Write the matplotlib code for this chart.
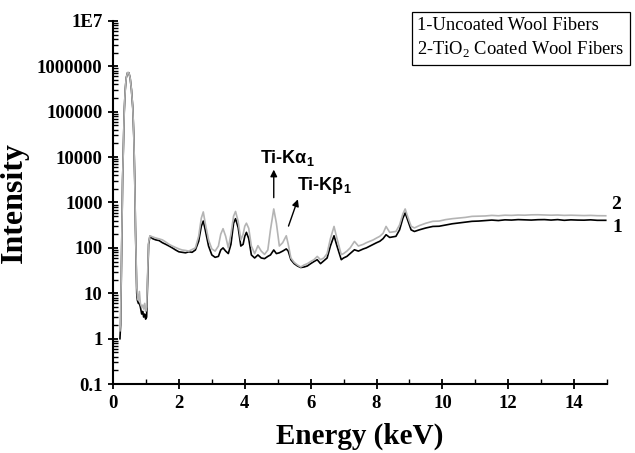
import matplotlib
matplotlib.use("Agg")
import matplotlib.pyplot as plt
from matplotlib.ticker import LogLocator, FixedLocator, MultipleLocator, NullFormatter

plt.rcParams["mathtext.fontset"] = "custom"
plt.rcParams["mathtext.rm"] = "Liberation Serif"
plt.rcParams["mathtext.bf"] = "Liberation Sans:bold"

energy = [0.21, 0.23, 0.25, 0.27, 0.29, 0.31, 0.34, 0.37, 0.40, 0.44, 0.48, 0.52, 0.56, 0.60,
          0.63, 0.66, 0.68, 0.70, 0.72, 0.74, 0.77, 0.80,
          0.83, 0.87, 0.90, 0.93, 0.96, 0.99, 1.02, 1.05, 1.08, 1.12, 1.2, 1.3, 1.4, 1.5, 1.6,
          1.7, 1.8, 1.9, 2.0, 2.1, 2.2, 2.3, 2.4, 2.5, 2.6, 2.68, 2.74, 2.8, 2.9, 3.0, 3.1, 3.2,
          3.27, 3.34, 3.42, 3.5, 3.58, 3.66, 3.72, 3.8, 3.88, 3.95, 4.0, 4.05, 4.12, 4.2, 4.3,
          4.4, 4.5, 4.6, 4.7, 4.78, 4.88, 4.96, 5.05, 5.15, 5.26, 5.32, 5.4, 5.5, 5.6, 5.7, 5.8,
          5.9, 6.0, 6.1, 6.2, 6.3, 6.4, 6.5, 6.6, 6.71, 6.8, 6.93, 7.0, 7.1, 7.2, 7.33, 7.45,
          7.6, 7.69, 7.8, 7.9, 8.0, 8.1, 8.2, 8.29, 8.4, 8.5, 8.59, 8.7, 8.8, 8.87, 8.95, 9.05,
          9.15, 9.3, 9.5, 9.71, 9.9, 10.1, 10.3, 10.5, 10.7, 10.9, 11.1, 11.3, 11.5, 11.7, 11.9,
          12.1, 12.3, 12.5, 12.7, 12.9, 13.1, 13.3, 13.5, 13.7, 13.9, 14.1, 14.3, 14.5, 14.7, 14.96]

uncoated = [1.0, 2, 20, 300, 3000, 12000, 100000, 300000, 550000, 720000, 720000, 550000, 300000, 120000,
            30000, 3000, 300, 50, 10, 7, 6, 6,
            5, 3.5, 4, 3, 3.5, 2.7, 3, 20, 120, 180, 160, 150, 145, 130, 120,
            110, 100, 90, 82, 80, 78, 82, 80, 90, 140, 300, 390, 250, 110, 70, 62, 65,
            90, 100, 85, 75, 120, 350, 440, 280, 110, 120, 180, 220, 160, 70, 60,
            70, 60, 58, 65, 70, 90, 75, 78, 85, 95, 85, 55, 45, 40, 37, 38,
            40, 45, 50, 55, 45, 52, 60, 110, 185, 110, 55, 60, 65, 75, 91, 85,
            95, 100, 110, 120, 130, 140, 160, 195, 170, 175, 180, 250, 450, 590, 400, 250,
            230, 250, 275, 297, 300, 320, 340, 355, 370, 385, 390, 400, 410, 400, 415,
            410, 420, 415, 410, 418, 420, 410, 420, 405, 415, 410, 408, 415, 405, 405]

coated = [1.5, 3, 25, 320, 3000, 12000, 100000, 300000, 550000, 720000, 720000, 550000, 300000, 120000,
          30000, 3000, 300, 60, 14, 9, 7, 11,
          6, 5, 5.5, 4.5, 6, 4, 5, 25, 130, 185, 175, 165, 158, 150, 135,
          120, 110, 102, 95, 90, 88, 85, 92, 100, 180, 450, 620, 350, 150, 95, 85, 110,
          200, 265, 180, 100, 200, 500, 635, 380, 150, 200, 300, 350, 270, 110, 75,
          112, 85, 72, 90, 250, 720, 350, 110, 130, 185, 120, 60, 48, 42, 38, 42,
          45, 50, 55, 65, 55, 60, 75, 160, 297, 160, 71, 75, 85, 100, 139, 110,
          120, 130, 140, 150, 165, 180, 210, 297, 220, 225, 230, 320, 560, 720, 480, 300,
          275, 310, 350, 385, 390, 420, 440, 455, 470, 495, 500, 505, 520, 510, 525,
          520, 530, 525, 535, 537, 530, 525, 530, 520, 525, 520, 515, 520, 512, 510]

ytick_vals = [0.1, 1, 10, 100, 1000, 10000, 100000, 1000000, 10000000]
ytick_labels = ["0.1", "1", "10", "100", "1000", "10000", "100000", "1000000", "1E7"]
xtick_vals = [0, 2, 4, 6, 8, 10, 12, 14]

serif = "Liberation Serif"
sans = "Liberation Sans"

fig = plt.figure(figsize=(6.35, 4.53), dpi=100)
ax = fig.add_axes([0.178, 0.152, 0.778, 0.802])

ax.plot(energy, uncoated, color="black", lw=1.2, zorder=2)
ax.plot(energy, coated, color="#b4b4b4", lw=1.2, zorder=3)

ax.set_yscale("log")
ax.set_ylim(0.1, 1e7)
ax.set_xlim(0, 15)

ax.yaxis.set_major_locator(FixedLocator(ytick_vals))
ax.set_yticklabels(ytick_labels)
ax.yaxis.set_minor_locator(LogLocator(base=10, subs=range(2, 10), numticks=20))
ax.yaxis.set_minor_formatter(NullFormatter())
ax.set_xticks(xtick_vals)
ax.set_xticklabels([str(v) for v in xtick_vals])
ax.xaxis.set_minor_locator(MultipleLocator(1))

for s in ["top", "right"]:
    ax.spines[s].set_visible(False)
for s in ["left", "bottom"]:
    ax.spines[s].set_linewidth(1.5)

ax.tick_params(axis="both", which="major", direction="inout", length=7, width=1.3, pad=4)
ax.tick_params(axis="both", which="minor", direction="in", length=3.5, width=1.0)
for lab in ax.get_xticklabels() + ax.get_yticklabels():
    lab.set_fontfamily(serif)
    lab.set_fontweight("bold")
    lab.set_fontsize(13.5)

ax.set_xlabel("Energy (keV)", fontfamily=serif, fontweight="bold", fontsize=21, labelpad=8)
ax.set_ylabel("Intensity", fontfamily=serif, fontweight="bold", fontsize=23, labelpad=6)

# annotations
ax.annotate("", xy=(4.88, 6100), xytext=(4.88, 1110),
            arrowprops=dict(arrowstyle="-|>", color="black", lw=1.0, mutation_scale=10))
ax.annotate("", xy=(5.64, 1340), xytext=(5.30, 265),
            arrowprops=dict(arrowstyle="-|>", color="black", lw=1.0, mutation_scale=10))
ax.text(4.45, 9700, r"Ti-Kα$_\mathbf{1}$", fontfamily=sans, fontweight="bold",
        fontsize=13, va="center", ha="left")
ax.text(5.58, 2400, r"Ti-Kβ$_\mathbf{1}$", fontfamily=sans, fontweight="bold",
        fontsize=13, va="center", ha="left")
ax.text(15.12, 890, "2", fontfamily=serif, fontweight="bold", fontsize=14,
        va="center", ha="left", clip_on=False)
ax.text(15.15, 278, "1", fontfamily=serif, fontweight="bold", fontsize=14,
        va="center", ha="left", clip_on=False)

# legend box
fig.text(0.657, 0.916, "1-Uncoated Wool Fibers\n2-TiO$_2$ Coated Wool Fibers",
         fontfamily=serif, fontsize=13.3, va="center", ha="left", linespacing=1.35,
         bbox=dict(boxstyle="square,pad=0.3", facecolor="white", edgecolor="black", lw=0.9))

fig.savefig("out.png", dpi=100)
